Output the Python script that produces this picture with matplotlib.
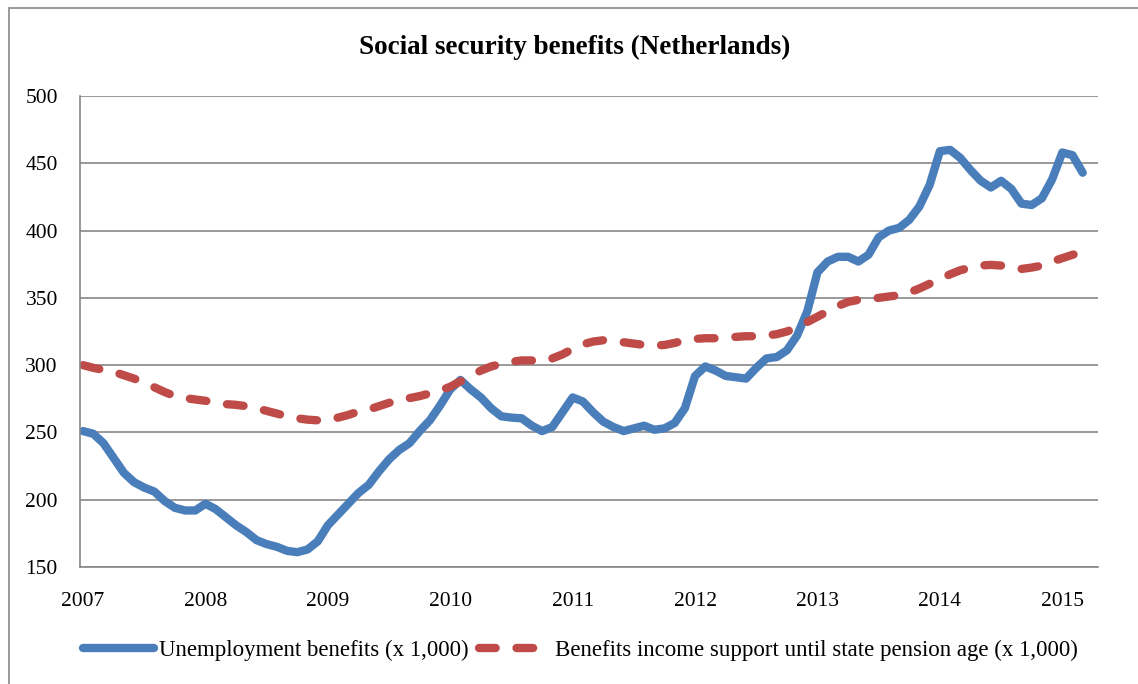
import matplotlib.pyplot as plt
import numpy as np

# monthly figures, Jan 2007 - Mar 2015 (x 1,000)
unemployment = [
    251, 249, 242, 231, 220, 213, 209, 206, 199, 194, 192, 192,
    197, 193, 187, 181, 176, 170, 167, 165, 162, 161, 163, 169,
    181, 189, 197, 205, 211, 221, 230, 237, 242, 251, 259, 270,
    282, 289, 282, 276, 268, 262, 261, 260.5, 255, 251, 254, 265,
    276, 273, 265, 258, 254, 251, 253, 255, 252, 253, 257, 268,
    292, 299, 296, 292, 291, 290, 298, 305, 306, 311, 322, 340,
    369, 377, 380.5, 380.5, 377, 382, 395, 400, 402, 408, 418, 434,
    459, 460, 454, 445, 437, 432, 437, 431, 420, 419, 424, 438,
    458, 456, 443,
]
income_support = [
    300, 298, 296.5, 295, 292.5, 290, 287, 283.5, 280, 277, 275.5, 274.5,
    273.5, 272, 271, 270.5, 269.5, 268, 266, 264, 262, 260.5, 259.5, 259,
    259.5, 261, 263, 265.5, 267, 269.5, 272, 274, 275.5, 277, 279, 281,
    284, 288, 292, 296, 299, 301, 302.5, 303.5, 303.5, 303, 305, 308,
    312, 315.5, 317.5, 318.5, 318, 317, 316, 315, 314.5, 315, 316.5, 318.5,
    319.5, 320, 320, 320.5, 321, 321.5, 321.5, 322, 323, 325, 328, 332,
    336, 340, 344, 347, 348.5, 349.5, 350, 351, 352, 354, 357, 360.5,
    364, 367.5, 370.5, 372.5, 374, 374.5, 374, 373, 371.5, 372.5, 374, 377,
    379.5, 382, 384,
]
years = ['2007', '2008', '2009', '2010', '2011', '2012', '2013', '2014', '2015']
yticks = [150, 200, 250, 300, 350, 400, 450, 500]

plt.rcParams['font.family'] = ['Liberation Serif', 'DejaVu Serif']
grey = '#878787'

fig = plt.figure(figsize=(11.38, 6.84), dpi=100)
ax = fig.add_axes([80 / 1138, 1 - 567 / 684, 1018 / 1138, 471 / 684])

months = np.arange(len(unemployment))
ax.plot(months, unemployment, color='#4A7EBB', lw=6,
        solid_capstyle='round', solid_joinstyle='round',
        label='Unemployment benefits (x 1,000)')
ax.plot(months, income_support, color='#BE4B48', lw=6,
        dashes=(2.0, 2.5), dash_capstyle='round', dash_joinstyle='round',
        label='Benefits income support until state pension age (x 1,000)')

ax.set_xlim(-0.3, 99.5)
ax.set_ylim(150, 500)
ax.set_yticks(yticks)
ax.set_xticks(np.arange(len(years)) * 12)
ax.set_xticklabels(years)

ax.grid(axis='y', color=grey, lw=1.2)
ax.set_axisbelow(True)
for side in ['top', 'right']:
    ax.spines[side].set_visible(False)
for side in ['left', 'bottom']:
    ax.spines[side].set_color(grey)
    ax.spines[side].set_linewidth(1.2)
ax.tick_params(axis='y', length=0, pad=16, labelsize=15.5)
ax.tick_params(axis='x', length=0, pad=18, labelsize=15.5)

fig.text(0.505, 1 - 47 / 684, 'Social security benefits (Netherlands)',
         ha='center', va='center', fontsize=19.5, fontweight='bold')

fig.legend(loc='center', bbox_to_anchor=(0.51, 1 - 650 / 684), ncol=2,
           frameon=False, fontsize=16.5, handlelength=3.1,
           handletextpad=0.2, columnspacing=0.45)

# outer chart border
fig.add_artist(plt.Rectangle((9 / 1138, -0.1), 2, 0.1 + 1 - 8 / 684,
                             transform=fig.transFigure, fill=False,
                             edgecolor=grey, lw=1.2))

fig.savefig('out.png', dpi=100)
